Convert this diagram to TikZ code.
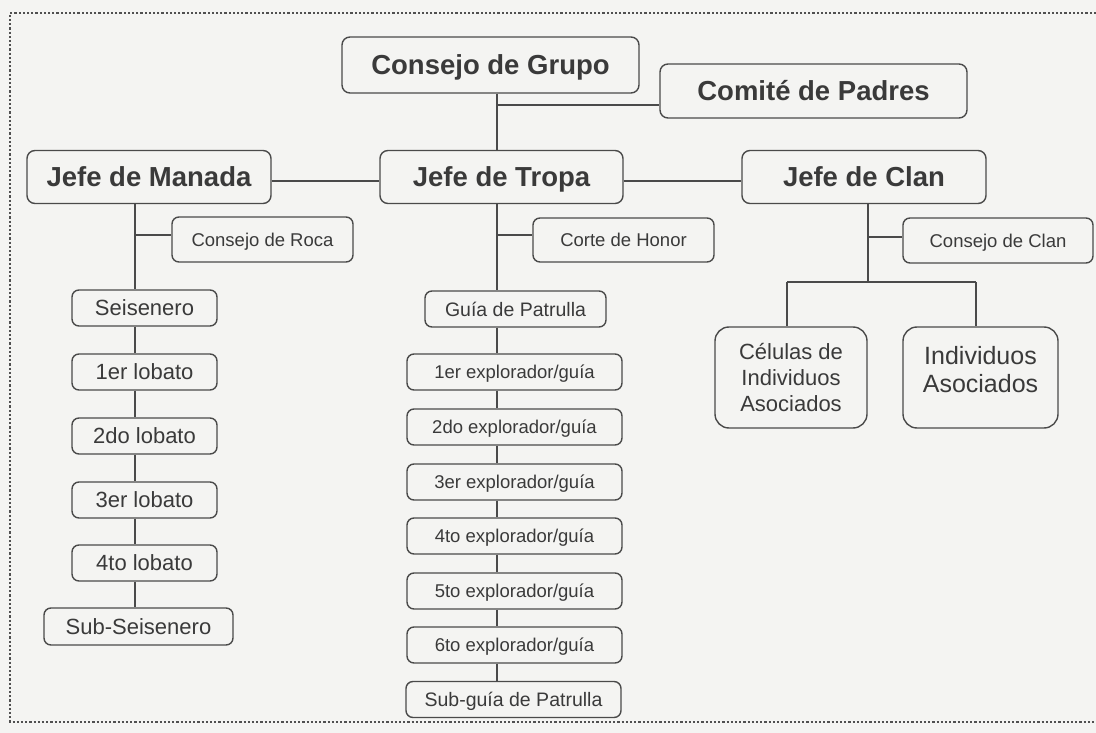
\documentclass[tikz,border=0pt]{standalone}
\usepackage{fontspec}
\setmainfont{Liberation Sans}
\definecolor{bg}{HTML}{F4F4F2}
\definecolor{ink}{HTML}{3A3A3A}
\definecolor{edge}{HTML}{4A4A4A}
\definecolor{dots}{HTML}{505050}
\tikzset{
  box/.style={draw=edge, line width=1.4pt, rounded corners=7pt, inner sep=0pt, text=ink, align=center},
  bigbox/.style={box, text height=20.6pt, text depth=1.2pt, font=\fontsize{27.5}{32}\selectfont\bfseries, rounded corners=8pt},
  lobox/.style={box, text height=16.5pt, text depth=0.6pt, font=\fontsize{22}{26}\selectfont, minimum width=145pt, minimum height=36pt},
  exbox/.style={box, text height=13.9pt, text depth=0.6pt, font=\fontsize{18.5}{22}\selectfont, minimum width=215pt, minimum height=36pt},
  smbox/.style={box, text height=13.9pt, text depth=0.6pt, font=\fontsize{18.5}{22}\selectfont},
  midbox/.style={box, text height=14.6pt, text depth=0.6pt, font=\fontsize{19.5}{23}\selectfont},
  conn/.style={draw=edge, line width=1.4pt},
  frame/.style={draw=dots, line width=2.8pt, dash pattern=on 2.2pt off 2pt}
}
\begin{document}
\begin{tikzpicture}[x=1pt,y=-1pt]
\useasboundingbox (0,0) rectangle (1096,733);
\fill[bg] (0,0) rectangle (1096,733);
% frame
\coordinate (f1) at (1096,13);
\coordinate (f2) at (10,13);
\coordinate (f3) at (10,722);
\coordinate (f4) at (1096,722);
\draw[frame] (f1) -- (f2) -- (f3) -- (f4);

% top level
\node[bigbox, minimum width=297pt, minimum height=56pt] (cg) at (490.5,65) {Consejo de Grupo};
\node[bigbox, minimum width=307pt, minimum height=54pt] (cp) at (813.5,91) {Comité de Padres};
\node[bigbox, minimum width=244pt, minimum height=53pt] (jm) at (149,177) {Jefe de Manada};
\node[bigbox, minimum width=243pt, minimum height=53pt] (jt) at (501.5,177) {Jefe de Tropa};
\node[bigbox, minimum width=244pt, minimum height=53pt] (jc) at (864,177) {Jefe de Clan};

% trunks
\coordinate (tx) at (497,105);
\coordinate (mx) at (135,235);
\coordinate (cx) at (868,237);
\coordinate (hm) at (0,181);

\draw[conn] (cg.south -| tx) -- (jt.north -| tx);
\draw[conn] (tx) -- (tx -| cp.west);
\draw[conn] (jm.east |- hm) -- (jt.west |- hm);
\draw[conn] (jt.east |- hm) -- (jc.west |- hm);

% Manada column
\node[smbox, minimum width=181pt, minimum height=45pt] (cr) at (262.5,239.5) {Consejo de Roca};
\node[lobox] (l0) at (144.5,308) {Seisenero};
\node[lobox] (l1) at (144.5,372) {1er lobato};
\node[lobox] (l2) at (144.5,436) {2do lobato};
\node[lobox] (l3) at (144.5,500) {3er lobato};
\node[lobox] (l4) at (144.5,563) {4to lobato};
\node[lobox, minimum width=189pt, minimum height=37pt] (l5) at (138.5,626.5) {Sub-Seisenero};
\draw[conn] (jm.south -| mx) -- (l0.north -| mx);
\draw[conn] (mx) -- (mx -| cr.west);
\draw[conn] (l0.south -| mx) -- (l1.north -| mx);
\draw[conn] (l1.south -| mx) -- (l2.north -| mx);
\draw[conn] (l2.south -| mx) -- (l3.north -| mx);
\draw[conn] (l3.south -| mx) -- (l4.north -| mx);
\draw[conn] (l4.south -| mx) -- (l5.north -| mx);

% Tropa column
\coordinate (tb) at (497,235);
\node[smbox, minimum width=181pt, minimum height=44pt] (ch) at (623.5,240) {Corte de Honor};
\node[midbox, minimum width=181pt, minimum height=36pt] (gp) at (515.5,309) {Guía de Patrulla};
\node[exbox] (e1) at (514.5,372) {1er explorador/guía};
\node[exbox] (e2) at (514.5,427) {2do explorador/guía};
\node[exbox] (e3) at (514.5,482) {3er explorador/guía};
\node[exbox] (e4) at (514.5,536) {4to explorador/guía};
\node[exbox] (e5) at (514.5,591) {5to explorador/guía};
\node[exbox] (e6) at (514.5,645) {6to explorador/guía};
\node[midbox, minimum width=215pt, minimum height=36pt] (sg) at (513.5,699.5) {Sub-guía de Patrulla};
\draw[conn] (jt.south -| tb) -- (gp.north -| tb);
\draw[conn] (tb) -- (tb -| ch.west);
\draw[conn] (gp.south -| tb) -- (e1.north -| tb);
\draw[conn] (e1.south -| tb) -- (e2.north -| tb);
\draw[conn] (e2.south -| tb) -- (e3.north -| tb);
\draw[conn] (e3.south -| tb) -- (e4.north -| tb);
\draw[conn] (e4.south -| tb) -- (e5.north -| tb);
\draw[conn] (e5.south -| tb) -- (e6.north -| tb);
\draw[conn] (e6.south -| tb) -- (sg.north -| tb);

% Clan column
\node[smbox, minimum width=190pt, minimum height=45pt] (cc) at (998,240.5) {Consejo de Clan};
\node[box, rounded corners=14pt, font=\fontsize{22}{26}\selectfont, minimum width=152pt, minimum height=101pt] (ce) at (791,377.5) {Células de\\Individuos\\Asociados};
\node[box, rounded corners=14pt, font=\fontsize{25}{28}\selectfont, minimum width=155pt, minimum height=101pt] (ia) at (980.5,377.5) {Individuos\\Asociados\\[-11pt]\mbox{}};
\coordinate (sp) at (868,282);
\coordinate (spl) at (787,282);
\coordinate (spr) at (976,282);
\draw[conn] (jc.south -| cx) -- (sp);
\draw[conn] (cx) -- (cx -| cc.west);
\draw[conn] (spl) -- (spr);
\draw[conn] (spl) -- (ce.north -| spl);
\draw[conn] (spr) -- (ia.north -| spr);
\end{tikzpicture}
\end{document}
